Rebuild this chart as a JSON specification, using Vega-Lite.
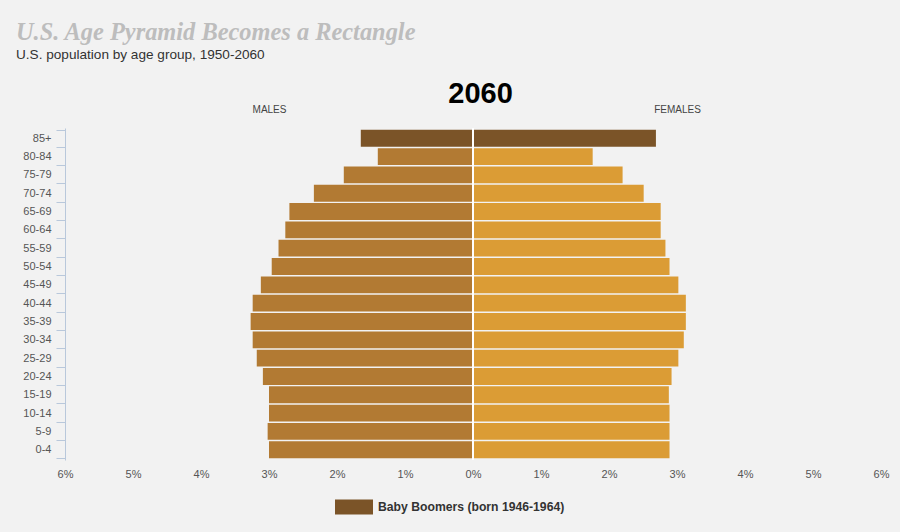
{
  "$schema": "https://vega.github.io/schema/vega-lite/v6.json",
  "width": 816,
  "height": 332,
  "autosize": {"type": "none"},
  "padding": {"left": 65, "top": 128, "right": 19, "bottom": 72},
  "background": "#F2F2F2",
  "config": {"view": {"stroke": null}},
  "title": {
    "text": "U.S. Age Pyramid Becomes a Rectangle",
    "subtitle": "U.S. population by age group, 1950-2060",
    "anchor": "start",
    "frame": "group",
    "dx": -49,
    "offset": 16,
    "font": "Liberation Serif",
    "fontStyle": "italic",
    "fontWeight": "bold",
    "fontSize": 24.4,
    "color": "#BDBDBD",
    "subtitleFont": "Liberation Sans",
    "subtitleFontSize": 13.6,
    "subtitleColor": "#333333",
    "subtitlePadding": 3
  },
  "data": {
    "values": [
      {"age": "85+", "sex": "Male", "cat": "Baby Boomers (born 1946-1964)", "value": -1.65},
      {"age": "85+", "sex": "Female", "cat": "Baby Boomers (born 1946-1964)", "value": 2.69},
      {"age": "80-84", "sex": "Male", "cat": "Male", "value": -1.40},
      {"age": "80-84", "sex": "Female", "cat": "Female", "value": 1.76},
      {"age": "75-79", "sex": "Male", "cat": "Male", "value": -1.90},
      {"age": "75-79", "sex": "Female", "cat": "Female", "value": 2.20},
      {"age": "70-74", "sex": "Male", "cat": "Male", "value": -2.34},
      {"age": "70-74", "sex": "Female", "cat": "Female", "value": 2.51},
      {"age": "65-69", "sex": "Male", "cat": "Male", "value": -2.70},
      {"age": "65-69", "sex": "Female", "cat": "Female", "value": 2.76},
      {"age": "60-64", "sex": "Male", "cat": "Male", "value": -2.76},
      {"age": "60-64", "sex": "Female", "cat": "Female", "value": 2.76},
      {"age": "55-59", "sex": "Male", "cat": "Male", "value": -2.86},
      {"age": "55-59", "sex": "Female", "cat": "Female", "value": 2.83},
      {"age": "50-54", "sex": "Male", "cat": "Male", "value": -2.96},
      {"age": "50-54", "sex": "Female", "cat": "Female", "value": 2.89},
      {"age": "45-49", "sex": "Male", "cat": "Male", "value": -3.12},
      {"age": "45-49", "sex": "Female", "cat": "Female", "value": 3.02},
      {"age": "40-44", "sex": "Male", "cat": "Male", "value": -3.24},
      {"age": "40-44", "sex": "Female", "cat": "Female", "value": 3.13},
      {"age": "35-39", "sex": "Male", "cat": "Male", "value": -3.27},
      {"age": "35-39", "sex": "Female", "cat": "Female", "value": 3.13},
      {"age": "30-34", "sex": "Male", "cat": "Male", "value": -3.24},
      {"age": "30-34", "sex": "Female", "cat": "Female", "value": 3.10},
      {"age": "25-29", "sex": "Male", "cat": "Male", "value": -3.18},
      {"age": "25-29", "sex": "Female", "cat": "Female", "value": 3.02},
      {"age": "20-24", "sex": "Male", "cat": "Male", "value": -3.09},
      {"age": "20-24", "sex": "Female", "cat": "Female", "value": 2.92},
      {"age": "15-19", "sex": "Male", "cat": "Male", "value": -3.00},
      {"age": "15-19", "sex": "Female", "cat": "Female", "value": 2.88},
      {"age": "10-14", "sex": "Male", "cat": "Male", "value": -3.00},
      {"age": "10-14", "sex": "Female", "cat": "Female", "value": 2.89},
      {"age": "5-9", "sex": "Male", "cat": "Male", "value": -3.02},
      {"age": "5-9", "sex": "Female", "cat": "Female", "value": 2.89},
      {"age": "0-4", "sex": "Male", "cat": "Male", "value": -3.00},
      {"age": "0-4", "sex": "Female", "cat": "Female", "value": 2.89}
    ]
  },
  "resolve": {"axis": {"x": "independent"}},
  "layer": [
    {
      "mark": {"type": "bar"},
      "encoding": {
        "y": {
          "field": "age",
          "type": "nominal",
          "sort": ["85+", "80-84", "75-79", "70-74", "65-69", "60-64", "55-59", "50-54", "45-49", "40-44", "35-39", "30-34", "25-29", "20-24", "15-19", "10-14", "5-9", "0-4"],
          "scale": {"paddingInner": 0.08, "paddingOuter": 0.1},
          "axis": {
            "title": null,
            "orient": "left",
            "domainColor": "#B9C8DB",
            "tickColor": "#B9C8DB",
            "tickBand": "extent",
            "tickSize": 9,
            "labelPadding": 5,
            "labelFont": "Liberation Sans",
            "labelFontSize": 11,
            "labelColor": "#555555",
            "grid": false
          }
        },
        "x": {
          "field": "value",
          "type": "quantitative",
          "scale": {"domain": [-6, 6], "nice": false},
          "axis": {
            "orient": "bottom",
            "title": null,
            "values": [-6, -5, -4, -3, -2, -1, 0, 1, 2, 3, 4, 5, 6],
            "labelExpr": "abs(datum.value) + '%'",
            "labelFlush": false,
            "domain": false,
            "ticks": false,
            "grid": false,
            "labelPadding": 8,
            "labelFont": "Liberation Sans",
            "labelFontSize": 11,
            "labelColor": "#555555"
          }
        },
        "color": {
          "field": "cat",
          "type": "nominal",
          "scale": {
            "domain": ["Baby Boomers (born 1946-1964)", "Male", "Female"],
            "range": ["#7B5428", "#B27A33", "#DB9C35"]
          },
          "legend": {
            "title": null,
            "values": ["Baby Boomers (born 1946-1964)"],
            "orient": "none",
            "legendX": 270,
            "legendY": 360,
            "padding": 0,
            "symbolType": "M-1,-0.4L1,-0.4L1,0.4L-1,0.4Z",
            "symbolSize": 1444,
            "symbolStrokeWidth": 0,
            "symbolOpacity": 1,
            "labelOffset": 5,
            "labelFont": "Liberation Sans",
            "labelFontWeight": "bold",
            "labelFontSize": 12.2,
            "labelColor": "#333333",
            "labelLimit": 300
          }
        }
      }
    },
    {
      "mark": {"type": "rule", "color": "#FFFFFF", "strokeWidth": 1.5},
      "encoding": {
        "x": {
          "datum": 0,
          "type": "quantitative",
          "axis": {
            "orient": "top",
            "title": "2060",
            "titleFont": "Liberation Sans",
            "titleFontSize": 29,
            "titleFontWeight": "bold",
            "titleColor": "#000000",
            "titlePadding": -4,
            "titleX": 415,
            "values": [-3, 3],
            "labelExpr": "datum.value < 0 ? 'MALES' : 'FEMALES'",
            "labelFlush": false,
            "domain": false,
            "ticks": false,
            "grid": false,
            "labelPadding": 14,
            "labelFont": "Liberation Sans",
            "labelFontSize": 10,
            "labelColor": "#444444"
          }
        }
      }
    }
  ]
}
